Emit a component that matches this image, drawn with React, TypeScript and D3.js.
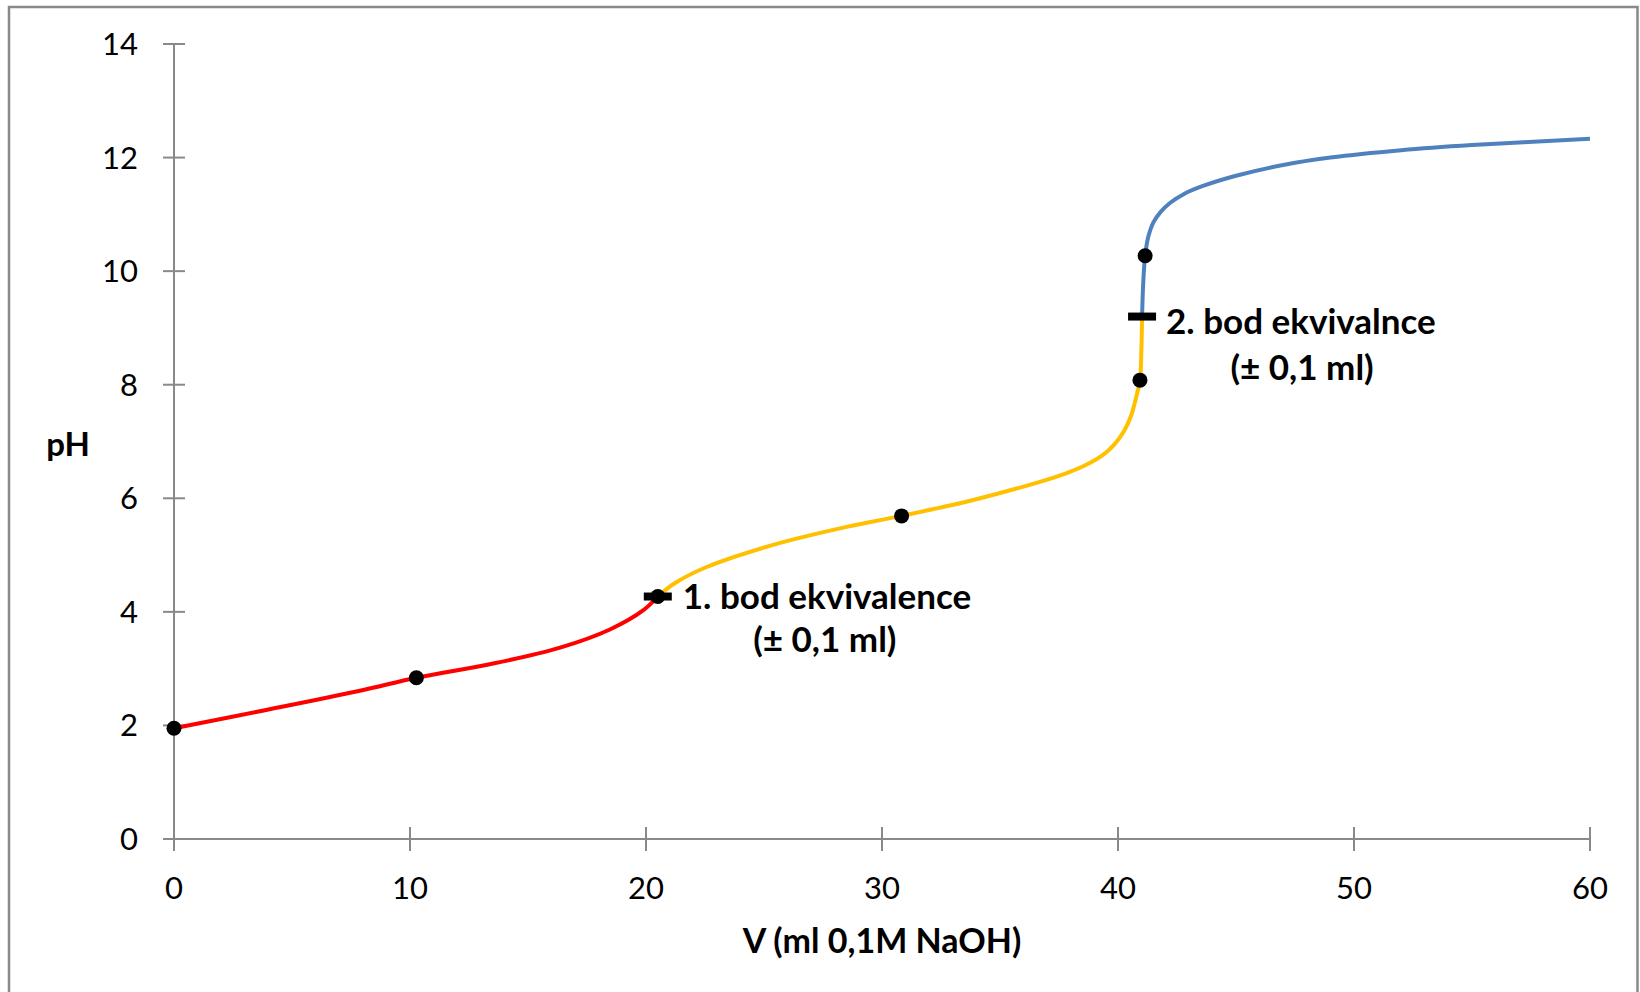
import * as React from "react";
import * as d3 from "d3";

// titration curve (V in ml, pH)
const redSeg: [number, number][] = [
  [0, 1.95], [3.64, 2.25], [7.88, 2.61], [10.27, 2.84], [13.53, 3.09],
  [16.36, 3.37], [18.47, 3.69], [19.89, 4.03], [20.5, 4.27],
];
const yellowSeg: [number, number][] = [
  [20.5, 4.27], [21.2, 4.5], [22.57, 4.79], [25.39, 5.18], [28.22, 5.47],
  [30.83, 5.69], [33.87, 5.97], [36.69, 6.29], [37.8, 6.44], [38.7, 6.6],
  [39.35, 6.76], [39.85, 6.95], [40.25, 7.18], [40.55, 7.45], [40.77, 7.78],
  [40.93, 8.08], [40.99, 8.6], [41.02, 9.2],
];
const blueSeg: [number, number][] = [
  [41.02, 9.2], [41.07, 9.8], [41.15, 10.27], [41.28, 10.6], [41.5, 10.86],
  [41.8, 11.04], [42.2, 11.2], [42.8, 11.36], [43.6, 11.5], [45, 11.68],
  [47, 11.87], [49, 12.0], [52, 12.13], [55, 12.22], [60, 12.33],
];
const dots: [number, number][] = [
  [0, 1.95], [10.27, 2.84], [20.5, 4.27], [30.83, 5.69], [40.93, 8.08], [41.15, 10.27],
];
const eqMarks: [number, number][] = [[20.5, 4.27], [41.02, 9.2]];
const eqLabels = ["1. bod ekvivalence", "2. bod ekvivalnce"];
const eqSub = "(± 0,1 ml)";

const xTicks = [0, 10, 20, 30, 40, 50, 60];
const yTicks = [0, 2, 4, 6, 8, 10, 12, 14];
const xTitle = "V (ml 0,1M NaOH)";
const yTitle = "pH";

const W = 1640;
const H = 992;
const font = "Lato, 'Open Sans', sans-serif";
const axisCol = "#898989";

// text placement next to each marker: [dx line1, dy line1, dx line2, dy line2]
const labelOff = [
  [25, 12, 167, 55],
  [24, 17, 160, 63],
];

export default function App() {
  const x = d3.scaleLinear().domain([0, 60]).range([174, 1590]);
  const y = d3.scaleLinear().domain([0, 14]).range([839, 44]);

  const line = d3
    .line<[number, number]>()
    .x((d) => x(d[0]))
    .y((d) => y(d[1]))
    .curve(d3.curveCatmullRom.alpha(0.5));

  return (
    <svg
      width={W}
      height={H}
      style={{ position: "absolute", left: 0, top: 0, background: "#fff" }}
      fontFamily={font}
    >
      <rect x={9} y={7} width={1628.5} height={1000} fill="#fff" stroke={axisCol} strokeWidth={2.5} />

      {/* axes */}
      <line x1={x(0)} x2={x(0)} y1={y(0)} y2={y(14)} stroke={axisCol} strokeWidth={2} />
      <line x1={x(0)} x2={x(60)} y1={y(0)} y2={y(0)} stroke={axisCol} strokeWidth={2} />
      {yTicks.map((t) => (
        <g key={"y" + t}>
          <line x1={x(0) - 11} x2={x(0) + 11} y1={y(t)} y2={y(t)} stroke={axisCol} strokeWidth={2} />
          <text x={x(0) - 36} y={y(t) + 11} textAnchor="end" fontSize={31} fill="#000">
            {t}
          </text>
        </g>
      ))}
      {xTicks.map((t) => (
        <g key={"x" + t}>
          <line x1={x(t)} x2={x(t)} y1={y(0) - 12} y2={y(0) + 12} stroke={axisCol} strokeWidth={2} />
          <text x={x(t)} y={y(0) + 60} textAnchor="middle" fontSize={31} fill="#000">
            {t}
          </text>
        </g>
      ))}
      <text x={882} y={953} textAnchor="middle" fontSize={34} fontWeight="bold">
        {xTitle}
      </text>
      <text x={68} y={456} textAnchor="middle" fontSize={33} fontWeight="bold">
        {yTitle}
      </text>

      {/* curve */}
      <path d={line(redSeg) || ""} fill="none" stroke="#ff0000" strokeWidth={4} />
      <path d={line(yellowSeg) || ""} fill="none" stroke="#ffc000" strokeWidth={4} />
      <path d={line(blueSeg) || ""} fill="none" stroke="#4f81bd" strokeWidth={4} />

      {dots.map((d, i) => (
        <circle key={"d" + i} cx={x(d[0])} cy={y(d[1])} r={7.5} fill="#000" />
      ))}

      {eqMarks.map((d, i) => (
        <g key={"e" + i}>
          <rect x={x(d[0]) - 14} y={y(d[1]) - 4} width={28} height={8} fill="#000" />
          <text x={x(d[0]) + labelOff[i][0]} y={y(d[1]) + labelOff[i][1]} fontSize={35} fontWeight="bold">
            {eqLabels[i]}
          </text>
          <text
            x={x(d[0]) + labelOff[i][2]}
            y={y(d[1]) + labelOff[i][3]}
            textAnchor="middle"
            fontSize={35}
            fontWeight="bold"
          >
            {eqSub}
          </text>
        </g>
      ))}
    </svg>
  );
}
